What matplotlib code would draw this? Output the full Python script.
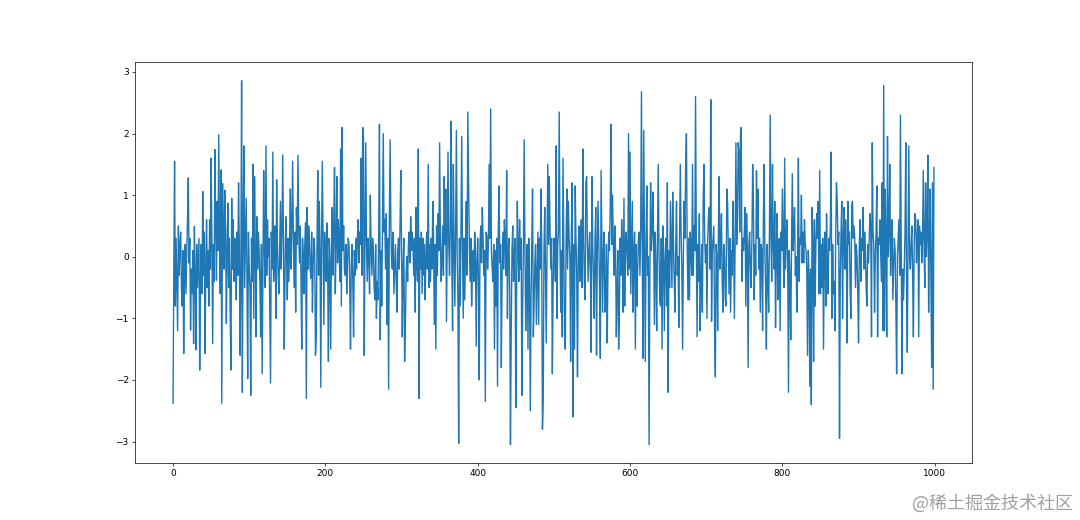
import matplotlib
matplotlib.use("Agg")
import matplotlib.pyplot as plt

plt.rcParams['font.family'] = ['DejaVu Sans']

values_000_099 = [
    -2.38, -0.2, 1.55, -0.8, 0.3, -0.4, -1.2, 0.5, -0.3, 0.2, 0.4, -0.5, -0.8, 0.1, -1.57, -0.3, 0.2, -0.6, 0.1, 0.6,
    1.28, -0.1, 0.3, -1.19, -0.2, -0.6, 0.1, -1.41, 0.49, -0.3, -1.51, 0.2, -0.5, -0.1, 0.3, -1.84, -0.4, 0.2, -0.6, 1.06,
    -0.3, 0.4, -1.57, -0.2, 0.6, -0.5, 0.1, -0.8, 0.6, -0.2, 1.6, 0.3, -1.41, 0.2, -0.4, 1.74, 0.5, -0.38, 0.9, 0.1,
    1.98, 0.2, -0.6, 1.41, -2.38, 1.19, 0.3, -0.2, 1.08, 0.4, -1.08, 0.1, 0.87, -0.5, 0.3, -0.9, -1.84, 0.95, -0.2, 0.6,
    -0.4, 0.3, 0.1, -0.7, 0.4, -0.3, 1.2, 0.2, -1.6, -0.4, 2.86, -2.2, 0.5, 1.8, -0.5, 0.2, 0.95, -0.3, -1.98, 0.4,
]
values_100_199 = [
    -0.2, -0.5, -2.25, 0.3, -0.4, 1.5, -1.0, 1.3, 0.1, -1.3, 0.65, -0.2, 0.4, 0.1, -0.4, -1.3, 0.2, -1.9, -0.3, 1.4,
    0.1, -0.5, 1.8, -0.3, 0.6, 0.0, 0.3, -0.9, -2.05, 0.4, -0.2, 1.7, -0.4, 0.0, 0.5, -1.0, 1.25, 0.2, -0.3, -0.6,
    0.1, 0.9, -0.2, 0.4, 1.65, 0.2, -1.5, -0.3, 0.65, 0.1, -0.7, 0.3, -0.4, 0.2, 1.1, -0.2, 0.5, 1.55, 0.3, -0.5,
    0.4, -0.9, 0.8, 0.2, 1.65, 0.4, -0.1, 0.5, -0.4, -1.5, 0.3, 0.0, -0.6, 0.2, 0.55, -2.3, 0.8, -0.2, 0.5, 0.3,
    -0.2, -0.35, 0.4, -0.9, -0.1, 0.3, 0.1, -1.6, -1.3, 0.2, 1.4, -0.3, 0.9, 0.1, -2.12, 0.3, 1.55, 0.2, -1.1, 0.4,
]
values_200_299 = [
    0.1, -0.4, 0.55, -0.2, -1.7, 0.3, -0.1, -1.5, 0.2, 0.8, -0.3, 0.5, 1.45, -0.6, 0.2, 1.3, -0.1, 0.6, 0.2, -0.4,
    1.75, -0.8, 2.1, 0.1, 0.5, -0.2, -0.3, 0.2, -0.6, -0.1, 0.3, 0.2, -0.5, -1.5, -0.1, 0.2, -0.4, -1.3, 0.1, -0.3,
    0.3, -0.2, 0.3, 0.6, -0.1, 0.4, 0.2, 1.6, -0.3, 2.1, 1.95, -1.6, 0.3, 1.85, 0.2, -0.4, 0.3, 0.0, -0.6, 1.0,
    0.2, -0.3, 0.3, 0.1, -0.5, -0.7, 0.2, -1.0, -0.4, -0.7, 0.4, 2.15, -1.35, 0.1, -0.8, 0.6, 2.0, 0.4, 0.6, -0.2,
    0.7, -1.1, 0.3, -2.15, 0.6, 1.9, 0.5, -0.1, -0.2, 0.4, -0.6, -0.2, 0.2, -0.4, -0.9, 0.1, 0.3, -0.2, 0.5, 1.4,
]
values_300_399 = [
    0.2, -1.3, -0.2, 0.3, -1.7, -1.15, -0.3, 0.0, -0.4, 0.2, 0.4, -0.1, 0.65, 0.1, 0.4, 0.2, -0.3, 0.3, -0.9, 0.8,
    -0.1, -0.4, 1.75, -2.3, 0.3, -0.2, 0.4, -0.6, 0.3, -0.3, 0.2, -0.7, 0.0, 0.4, -0.2, 1.5, -0.5, 0.2, -0.4, 0.3,
    -0.2, 0.9, 0.3, -1.1, 0.2, -1.5, 0.5, -0.3, 0.7, 0.1, 1.85, 0.3, -0.4, 0.0, 0.5, -0.3, 1.3, 0.2, 1.1, -1.05,
    0.3, 1.7, 0.2, -0.3, 0.5, 2.2, -0.1, -1.2, 1.5, 0.2, -0.8, 0.4, 2.05, 0.1, -0.7, -3.03, 0.3, -0.8, 0.4, 1.95,
    0.2, -1.0, 0.3, -0.7, 0.2, 0.9, -0.3, 2.35, 1.3, 0.2, -0.4, 0.3, -0.8, -0.2, 0.1, -0.4, 0.4, 0.1, -1.45, -0.1,
]
values_400_499 = [
    0.3, -0.4, -2.0, 0.2, 0.5, -0.1, 0.8, 0.3, -0.3, 0.1, -2.35, 0.4, 0.35, -0.2, 0.2, 1.5, 0.3, 2.4, 0.1, -0.2,
    -0.4, 0.2, -1.5, 0.1, -0.8, 0.3, -2.1, 0.4, 1.15, -0.1, 0.2, -1.8, -0.3, 0.4, -0.2, 0.6, 0.2, -0.3, 1.4, -1.0,
    0.1, 0.3, -0.5, -3.05, -1.2, 0.1, 0.5, -0.4, 0.0, 0.3, -2.45, -0.6, 0.9, 0.1, -0.4, 0.6, -0.2, 0.3, -2.25, -0.8,
    0.2, 1.9, 0.1, -1.2, -0.3, 0.2, -1.5, 0.3, -0.4, -2.5, -0.7, 0.3, 1.1, -1.3, -0.8, -0.1, 0.2, -1.1, -0.3, 0.4,
    -1.1, 0.3, -0.2, 1.1, 0.2, -2.8, -2.35, 0.1, 0.8, -0.3, -1.4, 0.2, 1.5, 0.2, 1.3, 0.4, -0.2, 0.3, -1.9, -0.5,
]
values_500_599 = [
    0.3, 0.1, -0.4, 1.8, -1.0, 0.2, 0.4, 2.35, 0.2, -0.9, 0.1, -1.3, 1.6, 0.2, -1.3, -1.5, 0.3, 1.1, -0.2, 0.9,
    0.3, 0.0, -1.7, 0.4, 1.2, -2.6, 0.2, -1.5, 1.15, 0.3, -0.3, -1.95, 0.1, 0.5, -0.4, 0.2, 0.6, -0.5, 1.75, 0.3,
    -0.4, -0.7, 1.2, 1.3, 0.2, -0.4, 0.1, 0.4, -0.3, -1.55, 1.3, 0.2, -0.3, -1.0, 0.3, 0.8, -1.6, 0.1, 0.9, 0.2,
    -0.5, -1.65, 1.4, 0.2, -0.9, 0.1, 0.4, -0.9, -0.8, 0.2, -1.4, -0.2, 0.4, 0.1, 0.8, 2.15, 0.2, 1.0, 0.2, -0.3,
    0.5, 0.1, -1.3, -0.5, 0.1, -1.5, -0.9, 0.3, -0.3, 0.6, 0.1, -0.9, 0.95, -0.8, 0.2, 0.4, 0.0, -0.3, 2.0, -0.2,
]
values_600_699 = [
    1.7, -0.6, 0.2, 0.9, -0.9, 0.1, 0.4, -1.5, 0.2, -0.8, -0.2, 0.3, 0.4, -0.3, 0.5, 2.68, 0.1, -1.65, 2.05, 0.3,
    -1.7, 0.2, 1.15, -0.3, 0.0, -3.05, -0.3, 1.2, 0.1, 0.4, 1.05, 0.2, -1.1, 0.4, -0.2, -1.2, 0.3, 1.5, 0.1, -0.7,
    -0.8, 0.3, -1.5, 0.5, 0.1, -1.2, -0.1, 0.3, -0.8, 1.2, -2.2, 0.1, -0.5, 0.9, 0.2, -0.5, 1.05, 0.2, -0.4, -0.9,
    0.2, 0.9, -0.3, 0.0, -1.15, 0.3, 1.5, 0.4, -0.2, -1.5, 0.0, 0.9, 0.3, 1.5, 2.0, 0.2, -0.7, 0.3, -0.7, 0.4,
    0.1, -0.3, 1.5, -0.3, 0.5, 0.1, 2.6, 0.3, -1.3, 0.2, -0.4, 0.7, -1.2, -0.4, 0.2, -0.9, 0.9, 1.5, 0.3, -0.1,
]
values_700_799 = [
    0.2, -1.0, 0.3, 0.7, 0.8, -0.2, 2.55, -1.05, 0.1, 0.3, 0.5, -1.2, -1.95, 0.2, 0.0, -1.2, 0.4, 1.3, -0.2, 0.1,
    0.7, -0.4, -0.9, 0.2, 0.0, -0.7, -0.8, 1.1, 0.9, 0.1, -0.6, 0.3, -0.9, 0.1, -0.3, 0.9, 0.2, -1.0, 0.3, 1.85,
    0.2, 0.6, 1.85, 1.7, 0.4, 2.0, 2.1, -0.4, 0.3, 0.1, 0.4, 0.8, -0.8, 0.7, 0.1, -1.8, 0.2, 0.4, -0.2, -0.5,
    0.3, 1.5, 0.8, -0.7, 0.2, -0.3, 1.4, 0.3, 1.1, -0.2, 0.3, -0.9, 0.2, 0.1, -1.2, 0.6, 1.5, 0.1, -0.5, -1.5,
    0.2, -0.3, -0.9, 0.4, 2.3, 0.3, -0.4, 1.5, 0.2, -0.2, 0.9, -1.15, 0.1, 0.7, -0.7, 0.2, 0.3, -1.2, 0.4, 0.1,
]
values_800_899 = [
    1.1, 0.2, -0.5, 1.6, -0.2, 0.3, 0.6, -0.1, -2.2, 0.1, -0.4, -1.35, 0.2, 1.35, 0.1, 0.4, 0.8, -0.3, 0.0, -0.9,
    0.2, 1.6, -0.4, 0.3, 0.2, 1.0, -0.1, 0.4, -0.1, 0.6, 0.2, 0.1, -0.2, -1.6, 0.1, -0.3, -2.1, -0.2, -2.4, 0.8,
    0.1, -1.7, 0.6, -0.8, 0.2, 0.7, 0.3, 0.9, -0.6, 1.4, -0.6, 0.2, -0.5, 0.3, -1.5, 0.0, 0.4, -0.8, 0.7, -0.2,
    -0.6, 0.3, 0.1, 0.5, 1.7, -1.0, 0.2, -0.6, -0.4, -1.2, 0.3, 1.2, 0.9, 0.2, 0.4, -2.95, -0.3, 0.4, 0.9, -1.0,
    0.3, 0.8, -0.2, 0.6, 0.1, -1.4, 0.9, 0.2, 0.4, -0.6, -1.0, 0.8, 0.9, 0.3, 0.5, 0.3, -0.5, 0.2, 0.0, -0.6,
]
values_900_999 = [
    -1.4, 0.2, 0.6, -0.4, 0.3, 0.1, 0.8, -0.2, 0.4, 0.1, -0.5, -0.8, 0.2, -0.1, 0.3, 0.7, 0.5, -1.3, 1.85, 0.4,
    0.2, -0.9, 0.0, 0.4, 1.15, -1.3, 0.3, 0.2, 0.6, 0.1, -0.4, 1.2, -1.2, 2.78, -1.2, 1.1, 0.2, -1.3, 1.95, 0.0,
    0.4, 1.5, -0.3, 0.2, 0.6, -0.7, -0.2, 0.3, 0.1, -0.8, -1.9, 0.0, 0.3, 0.6, -0.3, 2.3, 0.2, -1.9, -0.2, -0.7,
    -0.2, 0.4, 1.85, -0.4, -1.55, 0.3, 1.8, 0.0, -0.2, 0.2, 0.5, -0.3, -1.3, 0.2, 0.7, 0.6, -0.1, 0.3, 0.6, -1.3,
    0.5, 0.2, 0.4, -0.1, 0.3, 1.4, 0.2, -0.5, 1.2, 0.0, 0.4, 1.65, -0.9, 0.3, 1.1, -0.3, -1.8, 1.2, -2.15, 1.45,
]

series = (values_000_099 + values_100_199 + values_200_299 + values_300_399 +
          values_400_499 + values_500_599 + values_600_699 + values_700_799 +
          values_800_899 + values_900_999)
index = list(range(len(series)))

x_ticks = [0, 200, 400, 600, 800, 1000]
y_ticks = [-3, -2, -1, 0, 1, 2, 3]
watermark = "@稀土掘金技术社区"

fig = plt.figure(figsize=(10.8, 5.2), dpi=100)
ax = fig.add_subplot(111)
fig.subplots_adjust(left=0.125, right=0.9, bottom=0.11, top=0.88)
ax.plot(index, series, color='#1f77b4', linewidth=1.0)
ax.set_xticks(x_ticks)
ax.set_yticks(y_ticks)
ax.tick_params(labelsize=6.5, length=2.5, width=0.5, pad=2)
for s in ax.spines.values():
    s.set_linewidth(0.5)

fig.text(0.9935, 0.033, watermark, ha='right', va='center', fontsize=13,
         color='#a0a0a0', family=['Noto Sans CJK SC', 'DejaVu Sans'])

fig.savefig('out.png', dpi=100)
